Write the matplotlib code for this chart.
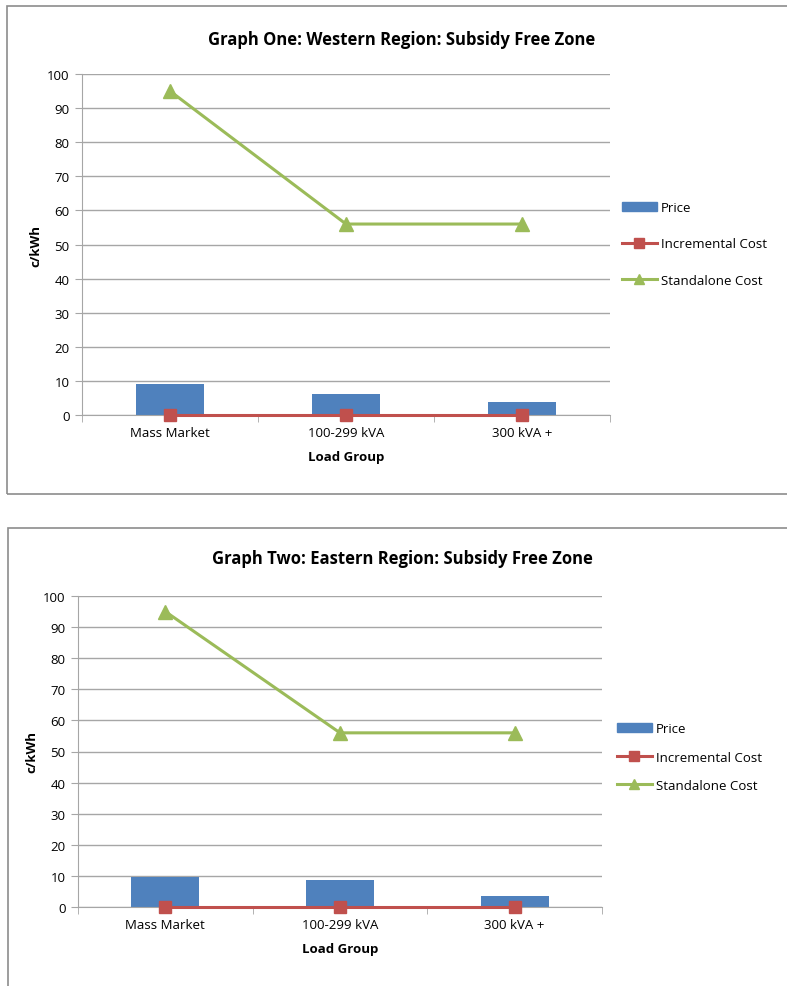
import matplotlib
matplotlib.use("Agg")
import matplotlib.pyplot as plt
from matplotlib.patches import Rectangle
from matplotlib.lines import Line2D

plt.rcParams['font.family'] = ['Open Sans', 'DejaVu Sans']

load_groups = ['Mass Market', '100-299 kVA', '300 kVA +']
west_price = [9.1, 6.1, 3.9]
west_incremental = [0, 0, 0]
west_standalone = [95, 56, 56]
east_price = [9.6, 8.6, 3.4]
east_incremental = [0, 0, 0]
east_standalone = [95, 56, 56]
y_ticks = list(range(0, 101, 10))

BLUE = '#4F81BD'
RED = '#C0504D'
GREEN = '#9BBB59'
GRID = '#a6a6a6'

W, H = 787, 987
fig = plt.figure(figsize=(W / 100, H / 100), dpi=100)


def px_box(x0, y0, x1, y1):
    # pixel box (top-left origin) -> figure fraction [left, bottom, width, height]
    return [x0 / W, 1 - y1 / H, (x1 - x0) / W, (y1 - y0) / H]


def draw_panel(axbox, title, title_y, price, incr, standalone, leg_anchor, leg_spacing):
    ax = fig.add_axes(px_box(*axbox))
    x = list(range(len(load_groups)))
    ax.bar(x, price, width=0.39, color=BLUE, zorder=2, label='Price')
    ax.plot(x, incr, color=RED, lw=2.2, marker='s', ms=9, zorder=3,
            clip_on=False, label='Incremental Cost')
    ax.plot(x, standalone, color=GREEN, lw=2.2, marker='^', ms=10, zorder=3,
            clip_on=False, label='Standalone Cost')
    ax.set_xlim(-0.5, 2.5)
    ax.set_ylim(0, 100)
    ax.set_yticks(y_ticks)
    ax.set_xticks(x)
    ax.set_xticklabels(load_groups)
    ax.set_xticks([-0.5, 0.5, 1.5, 2.5], minor=True)
    ax.tick_params(axis='x', which='major', length=0, pad=8, labelsize=9.5)
    ax.tick_params(axis='x', which='minor', length=5, color=GRID)
    ax.tick_params(axis='y', length=5, color=GRID, labelsize=9.5, pad=4)
    ax.yaxis.grid(True, color=GRID, lw=1)
    ax.set_axisbelow(True)
    for s in ('top', 'right'):
        ax.spines[s].set_visible(False)
    for s in ('left', 'bottom'):
        ax.spines[s].set_color(GRID)
    ax.set_xlabel('Load Group', fontsize=9.5, fontweight='bold', labelpad=8)
    ax.set_ylabel('c/kWh', fontsize=9.5, fontweight='bold', labelpad=3)
    fig.text(402 / W, 1 - title_y / H, title, ha='center', va='center',
             fontsize=12, fontweight='bold')

    handles = [Rectangle((0, 0), 1, 1, color=BLUE),
               Line2D([], [], color=RED, lw=2.2, marker='s', ms=7),
               Line2D([], [], color=GREEN, lw=2.2, marker='^', ms=7)]
    fig.legend(handles, ['Price', 'Incremental Cost', 'Standalone Cost'],
               loc='center left', bbox_to_anchor=(leg_anchor[0] / W, 1 - leg_anchor[1] / H),
               frameon=False, fontsize=9.5, labelspacing=leg_spacing,
               handlelength=2.6, handletextpad=0.3, borderaxespad=0)


# chart frames
fig.add_artist(Rectangle((7 / W, 1 - 495 / H), 1.2, 488 / H, transform=fig.transFigure,
                         fill=False, ec='#8c8c8c', lw=1.2))
fig.add_artist(Rectangle((8 / W, -0.1), 1.2, 0.1 + 1 - 529 / H, transform=fig.transFigure,
                         fill=False, ec='#8c8c8c', lw=1.2))

draw_panel((82, 75, 610, 416), 'Graph One: Western Region: Subsidy Free Zone', 40,
           west_price, west_incremental, west_standalone, (617, 245), 1.75)
draw_panel((78, 597, 602, 908), 'Graph Two: Eastern Region: Subsidy Free Zone', 559,
           east_price, east_incremental, east_standalone, (612, 758), 1.15)

fig.savefig('out.png', dpi=100)
